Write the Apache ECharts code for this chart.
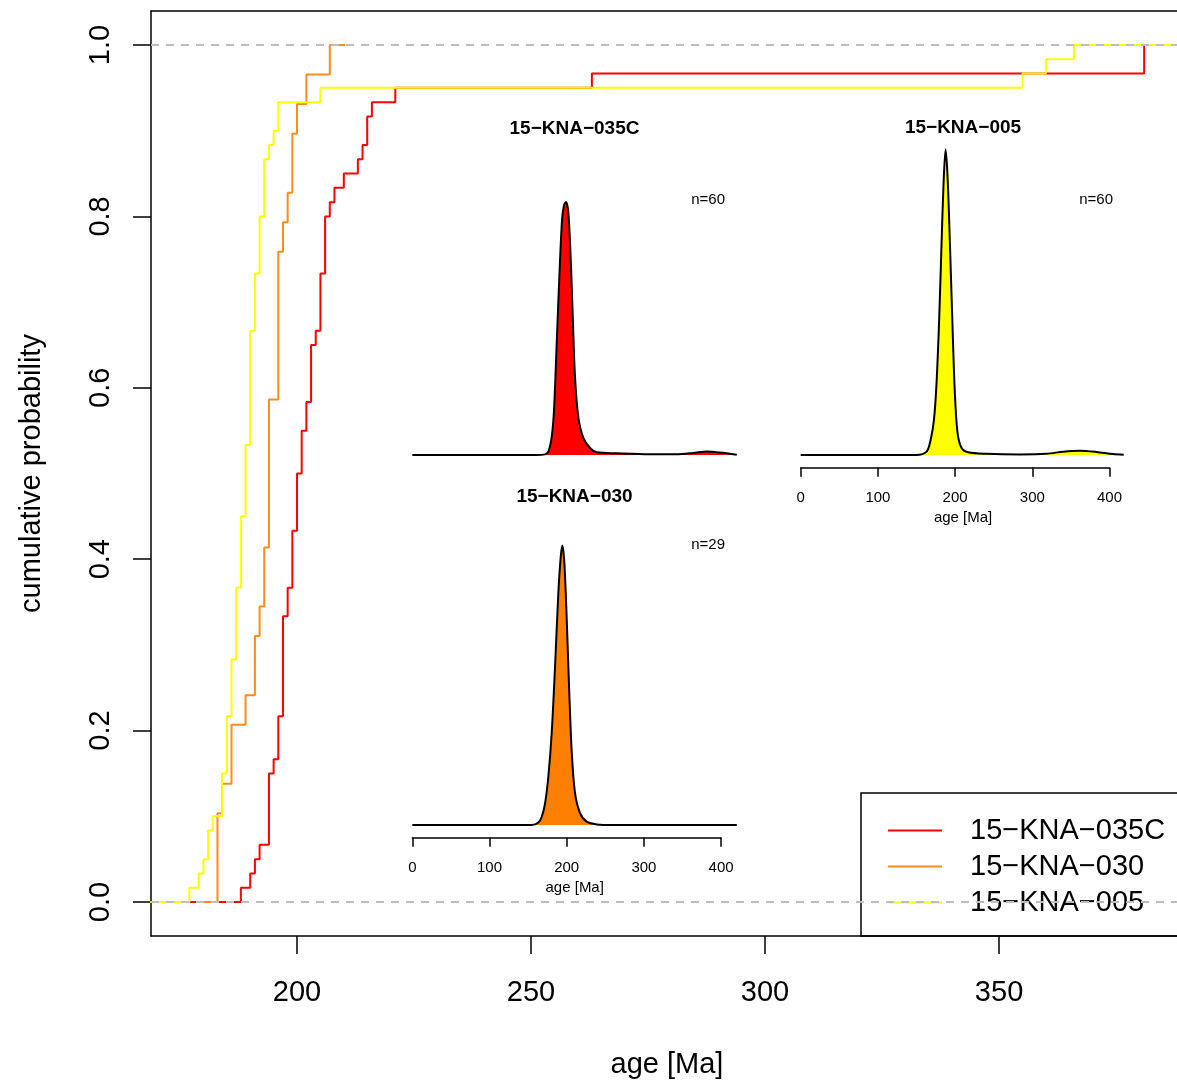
<!DOCTYPE html>
<html>
<head>
<meta charset="utf-8">
<title>CAD 15-KNA</title>
<script src="https://cdn.jsdelivr.net/npm/echarts@6/dist/echarts.min.js"></script>
<style>
html, body { margin: 0; padding: 0; background: #fff; }
#grafico { width: 1177px; height: 1080px; }
</style>
</head>
<body>
<div id="grafico"></div>
<script>
var nombres = ['15\u2212KNA\u2212035C', '15\u2212KNA\u2212030', '15\u2212KNA\u2212005'];
var coloresLinea = ['#ff0000', '#ff8c1a', '#ffff00'];
var coloresRelleno = ['#ff0000', '#ff8000', '#ffff00'];

var edades035C = [188, 190, 191, 192, 194, 194, 194, 194, 194, 195, 196, 196, 196,
  197, 197, 197, 197, 197, 197, 197, 198, 198, 199, 199, 199, 199, 200, 200, 200, 200,
  201, 201, 201, 202, 202, 203, 203, 203, 203, 204, 205, 205, 205, 205, 206, 206, 206, 206,
  207, 208, 210, 213, 214, 215, 215, 216, 221, 263, 381, 381];
var edades030 = [183, 183, 183, 184, 186, 186, 189, 191, 191, 192, 193, 193, 194, 194, 194,
  194, 194, 196, 196, 196, 196, 196, 197, 198, 199, 199, 200, 202, 207];
var edades005 = [177, 179, 180, 181, 181, 182, 184, 184, 184, 185, 185, 185, 185, 186, 186,
  186, 186, 187, 187, 187, 187, 187, 188, 188, 188, 188, 188, 189, 189, 189, 189, 189,
  190, 190, 190, 190, 190, 190, 190, 190, 191, 191, 191, 191, 192, 192, 192, 192,
  193, 193, 193, 193, 194, 195, 196, 196, 205, 355, 360, 366];
// extremos horizontales de cada escalera
var inicioCad = [160, 179.3, 160];
var finCad = [400, 210.3, 400];

var kdeEdad035C = [0, 160, 172, 176.3, 180.6, 183.6, 187.1, 190.5, 194, 196.6, 199.2, 202.2, 205.3,
  207.9, 210.8, 215.1, 221.6, 230.3, 239, 265, 308, 342, 364, 381.5, 398.7, 420.4];
var kdeDens035C = [0, 0, 0.002, 0.011, 0.059, 0.147, 0.366, 0.582, 0.769, 0.818, 0.828, 0.792, 0.638,
  0.451, 0.255, 0.124, 0.056, 0.023, 0.009, 0.0056, 0.0023, 0.0023, 0.0065, 0.0115, 0.008, 0.001];
var kdeEdad030 = [0, 155, 163.3, 167.7, 172, 176.2, 180.6, 184.9, 189.2, 192.3, 194.4, 197, 200.1,
  203.1, 206.6, 210.8, 217.3, 226, 239, 260, 420.4];
var kdeDens030 = [0, 0, 0.008, 0.027, 0.071, 0.157, 0.301, 0.517, 0.759, 0.877, 0.914, 0.857, 0.671,
  0.451, 0.236, 0.105, 0.039, 0.011, 0.002, 0, 0];
var kdeEdad005 = [0, 150, 163.1, 168.3, 172.6, 176, 179.5, 182.5, 185.1, 187.7, 190.3, 193.3, 196.3,
  199.7, 203.2, 208.4, 217, 240.8, 283.9, 318.4, 340, 361.6, 383.2, 404.7, 418.5];
var kdeDens005 = [0, 0, 0.011, 0.049, 0.114, 0.236, 0.451, 0.693, 0.890, 1.0, 0.909, 0.693, 0.451,
  0.203, 0.072, 0.023, 0.009, 0.004, 0.002, 0.004, 0.011, 0.014, 0.010, 0.003, 0.001];
var nMuestras = ['n=60', 'n=29', 'n=60'];

var ticksX = [200, 250, 300, 350];
var ticksY = [0, 0.2, 0.4, 0.6, 0.8, 1.0];
var ticksRecuadro = [0, 100, 200, 300, 400];

var fuente = 'Liberation Sans, Arial, Helvetica, sans-serif';
var lineaNegra = { color: '#000', width: 1.5 };

function escalones(edades, inicio, fin) {
  var n = edades.length;
  var pts = [[inicio, 0]];
  for (var i = 0; i < n; i++) {
    if (i < n - 1 && edades[i + 1] === edades[i]) continue;
    pts.push([edades[i], (i + 1) / n]);
  }
  pts.push([fin, 1]);
  return pts;
}

function unir(xs, ys) {
  var r = [];
  for (var i = 0; i < xs.length; i++) r.push([xs[i], ys[i]]);
  return r;
}

var edades = [edades035C, edades030, edades005];
var seriesCad = [];
for (var k = 0; k < 3; k++) {
  seriesCad.push({
    name: nombres[k],
    type: 'line',
    xAxisIndex: 0,
    yAxisIndex: 0,
    step: 'end',
    symbol: 'none',
    data: escalones(edades[k], inicioCad[k], finCad[k]),
    itemStyle: { color: coloresLinea[k] },
    lineStyle: { color: coloresLinea[k], width: 2 },
    z: 2 + k
  });
}

var kdes = [unir(kdeEdad035C, kdeDens035C), unir(kdeEdad030, kdeDens030), unir(kdeEdad005, kdeDens005)];
var seriesKde = [];
for (var j = 0; j < 3; j++) {
  seriesKde.push({
    name: 'kde' + j,
    type: 'line',
    xAxisIndex: j + 1,
    yAxisIndex: j + 1,
    smooth: 0.3,
    symbol: 'none',
    data: kdes[j],
    lineStyle: { color: '#000', width: 2 },
    areaStyle: { color: coloresRelleno[j], opacity: 1 },
    silent: true
  });
}

function ejeRecuadro(grid) {
  return { gridIndex: grid, type: 'value', min: 0, max: 420.4, show: false };
}
function ejeYOculto(grid) {
  return { gridIndex: grid, type: 'value', min: 0, max: 1, show: false };
}
function ejeEdades(grid) {
  return {
    gridIndex: grid, type: 'value', min: 0, max: 400, interval: 100,
    axisLine: { onZero: false, lineStyle: lineaNegra },
    axisTick: { length: 9, customValues: ticksRecuadro, lineStyle: lineaNegra },
    axisLabel: { customValues: ticksRecuadro, fontSize: 15, color: '#000', margin: 23, fontFamily: fuente },
    splitLine: { show: false },
    name: 'age [Ma]', nameLocation: 'middle', nameGap: 43,
    nameTextStyle: { fontSize: 15, color: '#000', fontFamily: fuente, padding: [0, 0, 0, 16] }
  };
}

function titulo(texto, x, y, tam, negrita, alinear) {
  return {
    text: texto, left: x, top: y, padding: 0,
    textAlign: alinear, textVerticalAlign: 'middle',
    textStyle: { fontSize: tam, fontWeight: negrita ? 'bold' : 'normal', color: '#000', fontFamily: fuente }
  };
}

function rejilla(x, y, w, h) {
  return { left: x, top: y, width: w, height: h, outerBoundsMode: 'none', containLabel: false };
}

var grafico = echarts.init(document.getElementById('grafico'));
var opcion = {
  animation: false,
  backgroundColor: '#fff',
  textStyle: { fontFamily: fuente },
  title: [
    titulo(nombres[0], 574.5, 128.5, 19, true, 'center'),
    titulo(nombres[1], 574.5, 497, 19, true, 'center'),
    titulo(nombres[2], 963, 128, 19, true, 'center'),
    titulo(nMuestras[0], 725, 200, 15, false, 'right'),
    titulo(nMuestras[1], 725, 545, 15, false, 'right'),
    titulo(nMuestras[2], 1113, 200, 15, false, 'right')
  ],
  legend: {
    data: nombres,
    orient: 'vertical',
    left: 861, top: 793,
    padding: [23, 30, 16, 27],
    itemGap: 7,
    itemWidth: 54, itemHeight: 2,
    icon: 'rect',
    selectedMode: false,
    textStyle: { fontSize: 29, color: '#000', fontFamily: fuente, lineHeight: 29, padding: [0, 0, 0, 23] }
  },
  // caja de la leyenda, abierta por la derecha como en la figura recortada
  graphic: [
    { type: 'rect', shape: { x: 861, y: 793, width: 400, height: 143 }, style: { fill: 'none', stroke: '#000', lineWidth: 1.5 }, z: 1 }
  ],
  grid: [
    rejilla(151, 11, 1032, 925),
    rejilla(412.3, 149.3, 324.5, 305.7),
    rejilla(412.3, 519.3, 324.5, 305.7),
    rejilla(800.7, 149.3, 324.5, 305.7),
    rejilla(412.3, 836.7, 308.8, 1),
    rejilla(800.7, 466.7, 308.8, 1)
  ],
  xAxis: [
    {
      gridIndex: 0, type: 'value', min: 168.8, max: 389.3,
      axisLine: { show: true, onZero: false, lineStyle: lineaNegra },
      axisTick: { length: 18, customValues: ticksX, lineStyle: lineaNegra },
      axisLabel: { customValues: ticksX, fontSize: 29, color: '#000', margin: 42, fontFamily: fuente },
      splitLine: { show: false },
      name: 'age [Ma]', nameLocation: 'middle', nameGap: 114,
      nameTextStyle: { fontSize: 29, color: '#000', fontFamily: fuente }
    },
    ejeRecuadro(1), ejeRecuadro(2), ejeRecuadro(3),
    ejeEdades(4), ejeEdades(5),
    {
      // borde superior del recuadro principal
      gridIndex: 0, type: 'value', position: 'top', min: 168.8, max: 389.3,
      axisLine: { show: true, onZero: false, lineStyle: lineaNegra },
      axisTick: { show: false }, axisLabel: { show: false }, splitLine: { show: false }
    }
  ],
  yAxis: [
    {
      gridIndex: 0, type: 'value', min: -0.0397, max: 1.0397,
      axisLine: { show: true, onZero: false, lineStyle: lineaNegra },
      axisTick: { length: 18, customValues: ticksY, lineStyle: lineaNegra },
      axisLabel: {
        customValues: ticksY, rotate: 90, fontSize: 29, color: '#000', margin: 36, fontFamily: fuente,
        formatter: function (v) { return v.toFixed(1); }
      },
      splitLine: { show: false },
      name: 'cumulative probability', nameLocation: 'middle', nameGap: 105,
      nameTextStyle: { fontSize: 29, color: '#000', fontFamily: fuente }
    },
    ejeYOculto(1), ejeYOculto(2), ejeYOculto(3), ejeYOculto(4), ejeYOculto(5)
  ],
  series: seriesCad.concat(seriesKde).concat([
    {
      name: 'limites',
      type: 'line',
      xAxisIndex: 0, yAxisIndex: 0,
      data: [],
      z: 10,
      markLine: {
        silent: true, symbol: 'none', label: { show: false },
        lineStyle: { color: '#bebebe', width: 2, type: [8, 7] },
        data: [{ yAxis: 0 }, { yAxis: 1 }]
      }
    }
  ])
};
grafico.setOption(opcion);
</script>
</body>
</html>
